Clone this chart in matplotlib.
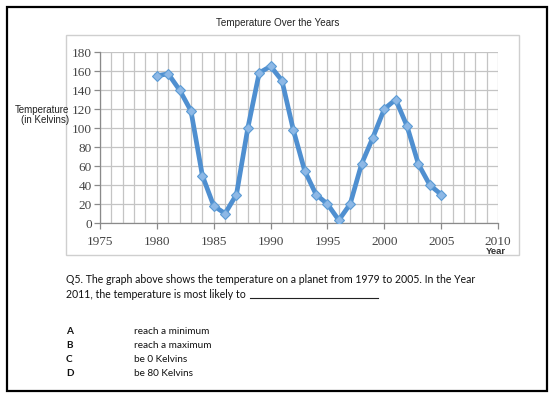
import matplotlib.pyplot as plt
from matplotlib.patches import Rectangle
from matplotlib.ticker import MultipleLocator

# --- data ---
years = [1980, 1981, 1982, 1983, 1984, 1985, 1986, 1987, 1988, 1989,
         1990, 1991, 1992, 1993, 1994, 1995, 1996, 1997, 1998, 1999,
         2000, 2001, 2002, 2003, 2004, 2005]
temps = [155, 157, 140, 118, 50, 18, 10, 30, 100, 158,
         165, 150, 98, 55, 30, 20, 3, 20, 62, 90,
         120, 130, 102, 62, 40, 30]
x_ticks = [1975, 1980, 1985, 1990, 1995, 2000, 2005, 2010]
y_ticks = [0, 20, 40, 60, 80, 100, 120, 140, 160, 180]

title = "Temperature Over the Years"
ylabel = "Temperature\n(in Kelvins)"
xlabel = "Year"
question = ("Q5. The graph above shows the temperature on a planet from 1979 to 2005. In the Year\n"
            "2011, the temperature is most likely to")
options = [("A", "reach a minimum"), ("B", "reach a maximum"),
           ("C", "be 0 Kelvins"), ("D", "be 80 Kelvins")]

W, H = 556, 398
fig = plt.figure(figsize=(W / 100, H / 100), dpi=100)
fig.patch.set_facecolor("white")

def fx(px):
    return px / W

def fy(py):
    return 1 - py / H

# outer black frame and light chart-area box
fig.patches.append(Rectangle((fx(7), fy(391)), fx(540), 384 / H, transform=fig.transFigure,
                             fill=False, edgecolor="black", lw=1.6))
fig.patches.append(Rectangle((fx(66), fy(255)), fx(453), 220 / H, transform=fig.transFigure,
                             fill=False, edgecolor="#cfcfcf", lw=1.0))

ax = fig.add_axes([fx(100), fy(223), fx(398), 171 / H])
ax.plot(years, temps, color="#4f8fd0", lw=3.4, solid_joinstyle="round", zorder=3,
        marker="D", markersize=5.5, markerfacecolor="#8db8e6", markeredgecolor="#5b9bd5",
        markeredgewidth=0.8)

ax.set_xlim(1975, 2010)
ax.set_ylim(0, 180)
ax.set_xticks(x_ticks)
ax.set_yticks(y_ticks)
ax.xaxis.set_minor_locator(MultipleLocator(1))
ax.grid(True, which="major", axis="y", color="#c4c4c4", lw=0.9)
ax.grid(True, which="both", axis="x", color="#c4c4c4", lw=0.9)
ax.set_axisbelow(True)

for side in ["top", "right"]:
    ax.spines[side].set_visible(False)
for side in ["left", "bottom"]:
    ax.spines[side].set_color("#8a8a8a")
    ax.spines[side].set_linewidth(0.9)

ax.tick_params(axis="both", which="major", direction="out", length=4, width=0.9,
               color="#8a8a8a", labelcolor="#444444", labelsize=9.5)
ax.tick_params(axis="x", which="minor", length=0)
ax.tick_params(axis="x", pad=5)
ax.tick_params(axis="y", pad=2)
for lab in ax.get_xticklabels() + ax.get_yticklabels():
    lab.set_family("Liberation Serif")

fig.text(fx(278), fy(23), title, ha="center", va="center", fontsize=7.1,
         family="Liberation Sans", color="#222222")
fig.text(fx(69), fy(115), ylabel, ha="right", va="center", fontsize=7.0,
         family="Liberation Sans", color="#222222", linespacing=1.0)
fig.text(fx(496), fy(251), xlabel, ha="center", va="center", fontsize=6.8,
         family="Liberation Sans", color="#333333", fontweight="bold")

fig.text(fx(66), fy(287), question, ha="left", va="center", fontsize=7.6,
         family="Lato", color="#111111", linespacing=1.35)
# answer blank
fig.add_artist(plt.Line2D([fx(250), fx(378)], [fy(298), fy(298)], transform=fig.transFigure,
                          color="#222222", lw=0.8))
for i, (letter, text) in enumerate(options):
    yy = fy(331 + i * 14.3)
    fig.text(fx(66), yy, letter, ha="left", va="center", fontsize=7.2,
             family="Lato", fontweight="bold", color="#111111")
    fig.text(fx(134), yy, text, ha="left", va="center", fontsize=7.2,
             family="Lato", color="#111111")

fig.savefig("out.png", dpi=100)
